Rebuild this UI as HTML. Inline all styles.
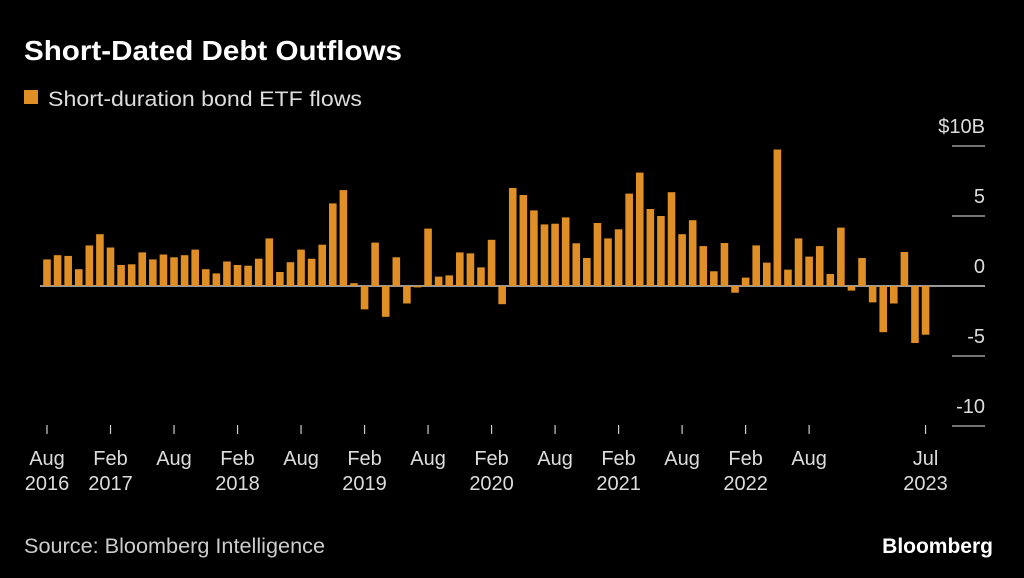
<!DOCTYPE html>
<html><head><meta charset="utf-8"><style>
body{margin:0;background:#000;width:1024px;height:578px;overflow:hidden;font-family:"Liberation Sans",sans-serif;color:#fff}
svg{position:absolute;left:0;top:0}
</style></head><body>
<svg width="1024" height="578">
<text x="24" y="60" font-size="28" font-weight="bold" fill="#fff" textLength="378" lengthAdjust="spacingAndGlyphs">Short-Dated Debt Outflows</text>
<rect x="24" y="90" width="14" height="14" fill="#e08e26"/>
<text x="48" y="106" font-size="21" fill="#ddd" textLength="314" lengthAdjust="spacingAndGlyphs">Short-duration bond ETF flows</text>
<g id="grid"></g><g id="bars"></g><g id="xaxis"></g>
<text x="24" y="553" font-size="21" fill="#ccc" textLength="301" lengthAdjust="spacingAndGlyphs">Source: Bloomberg Intelligence</text>
<text x="993" y="553" font-size="21" font-weight="bold" fill="#fff" text-anchor="end">Bloomberg</text>
</svg>
<script>
const values=[1.9,2.2,2.15,1.2,2.9,3.7,2.75,1.5,1.55,2.4,1.9,2.25,2.05,2.2,2.6,1.2,0.9,1.75,1.5,1.45,1.95,3.4,1.0,1.7,2.6,1.95,2.95,5.9,6.85,0.2,
-1.67,3.1,-2.2,2.05,-1.25,-0.1,4.1,0.67,0.76,2.4,2.33,1.33,3.3,-1.3,7.0,6.5,5.4,4.4,4.45,4.9,3.05,2.0,4.5,3.4,4.05,6.6,8.1,5.5,5.0,6.7,
3.7,4.7,2.85,1.05,3.07,-0.48,0.6,2.9,1.67,9.75,1.17,3.4,2.1,2.85,0.86,4.17,-0.33,2.0,-1.17,-3.3,-1.25,2.43,-4.07,-3.48];
const yTicks=[10,5,0,-5,-10];
const yTickLabels=["$10B","5","0","-5","-10"];
const xTickIdx=[0,6,12,18,24,30,36,42,48,54,60,66,72,83];
const xTickMonth=["Aug","Feb","Aug","Feb","Aug","Feb","Aug","Feb","Aug","Feb","Aug","Feb","Aug","Jul"];
const xTickYear=["2016","2017","","2018","","2019","","2020","","2021","","2022","","2023"];
const NS="http://www.w3.org/2000/svg";
const y=v=>286-v*14;
const x=i=>47+i*10.585;
const grid=document.getElementById('grid'),bars=document.getElementById('bars'),xa=document.getElementById('xaxis');
function mk(tag,attrs,parent){const e=document.createElementNS(NS,tag);for(const k in attrs)e.setAttribute(k,attrs[k]);parent.appendChild(e);return e;}
yTicks.forEach((t,j)=>{
  if(t!==0){const l=mk('line',{x1:952,x2:985,y1:y(t),y2:y(t),stroke:'#bbb','stroke-width':1.2},grid);
  
  }
  const tx=mk('text',{x:985,y:y(t)-13,'font-size':20,fill:'#ddd','text-anchor':'end'},grid);
  tx.textContent=yTickLabels[j];
  
  
});
values.forEach((v,i)=>{
  const r=mk('rect',{x:x(i)-3.8,y:Math.min(y(v),y(0)),width:7.6,height:Math.abs(v)*14,fill:'#e08e26'},bars);
  
  
});
const zl=mk('line',{x1:40,x2:985,y1:y(0),y2:y(0),stroke:'#ccc','stroke-width':1.5},grid);


xTickIdx.forEach((idx,j)=>{
  const cx=x(idx);
  const tk=mk('line',{x1:cx,x2:cx,y1:425,y2:434,stroke:'#ccc','stroke-width':1.2},xa);
  
  
  const m=mk('text',{x:cx,y:465,'font-size':20,fill:'#ddd','text-anchor':'middle'},xa);
  m.textContent=xTickMonth[j];
  
  
  if(xTickYear[j]){const yr=mk('text',{x:cx,y:490,'font-size':20,fill:'#ddd','text-anchor':'middle'},xa);
  yr.textContent=xTickYear[j];
  
  }
});
</script>
</body></html>
